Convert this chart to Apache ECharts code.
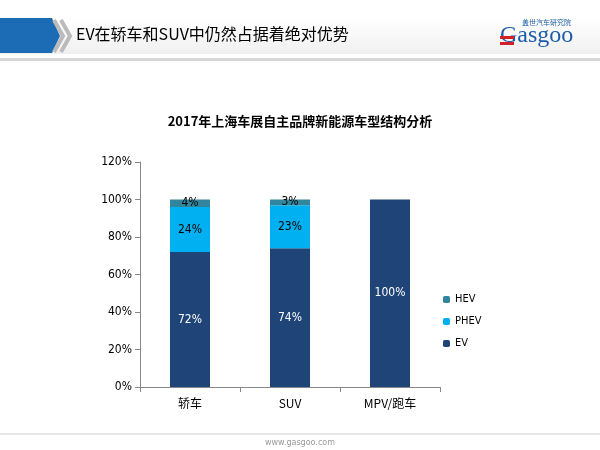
<!DOCTYPE html>
<html><head><meta charset="utf-8">
<script src="https://cdn.jsdelivr.net/npm/echarts@6/dist/echarts.min.js"></script>
<style>html,body{margin:0;padding:0;background:#fff}#c{width:600px;height:450px}</style>
</head><body><div id="c"></div>
<script>
var categories = ['轿车', 'SUV', 'MPV/跑车'];
var evValues = [72, 74, 100];
var phevValues = [24, 23, 0];
var hevValues = [4, 3, 0];
var seriesNames = ['HEV', 'PHEV', 'EV'];

var chart = echarts.init(document.getElementById('c'));
function lbl(color){
    return {show: true, position: 'inside', color: color, fontSize: 12, fontFamily: 'DejaVu Sans Condensed',
        formatter: function(p){ return p.value ? p.value + '%' : ''; }};
}
var option = {
    animation: false,
    title: {
        text: '2017年上海车展自主品牌新能源车型结构分析',
        left: 'center', top: 110,
        textStyle: {fontSize: 13, fontWeight: 'bold', color: '#000', fontFamily: 'Noto Sans CJK SC'}
    },
    legend: {
        orient: 'vertical', left: 438, top: 289, itemWidth: 7, itemHeight: 7, itemGap: 11,
        data: seriesNames,
        textStyle: {fontSize: 11, color: '#000', fontFamily: 'DejaVu Sans Condensed'}
    },
    grid: {left: 140, right: 160, top: 162, bottom: 63},
    xAxis: {
        type: 'category', data: categories,
        axisLine: {lineStyle: {color: '#888'}},
        axisTick: {show: true, lineStyle: {color: '#888'}},
        axisLabel: {color: '#000', fontSize: 12, margin: 10, fontFamily: 'Noto Sans CJK SC'}
    },
    yAxis: {
        type: 'value', min: 0, max: 120, interval: 20,
        axisLine: {show: true, lineStyle: {color: '#888'}},
        axisTick: {show: true, lineStyle: {color: '#888'}},
        splitLine: {show: false},
        axisLabel: {color: '#000', fontSize: 12, formatter: '{value}%', fontFamily: 'DejaVu Sans Condensed'}
    },
    series: [
        {name: 'EV', type: 'bar', stack: 't', data: evValues, barWidth: '40%',
            itemStyle: {color: '#1F4477'}, label: lbl('#fff')},
        {name: 'PHEV', type: 'bar', stack: 't', data: phevValues,
            itemStyle: {color: '#00B0F0'}, label: lbl('#000')},
        {name: 'HEV', type: 'bar', stack: 't', data: hevValues,
            itemStyle: {color: '#31859C'}, label: lbl('#000')}
    ],
    graphic: [
        {type: 'rect', shape: {x: 0, y: 18, width: 600, height: 36},
            style: {fill: new echarts.graphic.LinearGradient(0, 0, 0, 1, [{offset: 0, color: '#ffffff'}, {offset: 1, color: '#f0f0f0'}])}},
        {type: 'rect', shape: {x: 0, y: 58, width: 600, height: 3}, style: {fill: '#d8d8d8'}},
        {type: 'polygon', shape: {points: [[0, 18], [52, 18], [60, 36], [52, 53], [0, 53]]}, style: {fill: '#1C6BB5'}},
        {type: 'polyline', shape: {points: [[54, 20], [63, 36], [54, 52]]}, style: {stroke: '#bbb', lineWidth: 4, fill: null}},
        {type: 'polyline', shape: {points: [[61, 20], [70, 36], [61, 52]]}, style: {stroke: '#bbb', lineWidth: 4, fill: null}},
        {type: 'text', left: 76, top: 26, style: {text: 'EV在轿车和SUV中仍然占据着绝对优势', fill: '#000', fontSize: 16, fontFamily: 'Noto Sans CJK SC'}},
        {type: 'text', left: 522, top: 19, style: {text: '盖世汽车研究院', fill: '#1C5CA8', fontSize: 7, fontFamily: 'Noto Sans CJK SC'}},
        {type: 'text', left: 500, top: 24, style: {text: 'Gasgoo', fill: '#1C5CA8', fontSize: 24, fontFamily: 'Liberation Serif'}},
        {type: 'rect', shape: {x: 500, y: 36, width: 14, height: 3}, style: {fill: '#d42027'}},
        {type: 'rect', shape: {x: 500, y: 42, width: 14, height: 3}, style: {fill: '#d42027'}},
        {type: 'line', shape: {x1: 0, y1: 434, x2: 600, y2: 434}, style: {stroke: '#ccc', lineWidth: 1}},
        {type: 'text', left: 'center', top: 439, style: {text: 'www.gasgoo.com', fill: '#999', fontSize: 8, fontFamily: 'DejaVu Sans'}}
    ]
};
chart.setOption(option);
</script></body></html>
